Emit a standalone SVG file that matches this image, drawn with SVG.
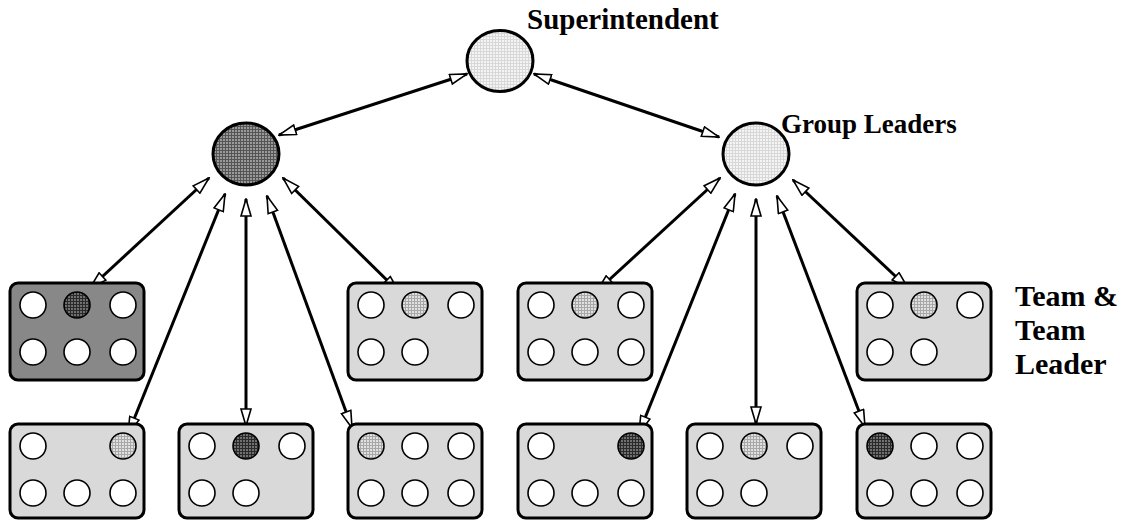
<svg xmlns="http://www.w3.org/2000/svg" width="1129" height="520" viewBox="0 0 1129 520">
<defs>
<pattern id="hxl" width="3" height="3" patternUnits="userSpaceOnUse"><rect width="3" height="3" fill="#f4f4f4"/><path d="M0,0.5H3M0.5,0V3" stroke="#d8d8d8" stroke-width="1"/></pattern>
<pattern id="hl" width="3" height="3" patternUnits="userSpaceOnUse"><rect width="3" height="3" fill="#e0e0e0"/><path d="M0,0.5H3M0.5,0V3" stroke="#a8a8a8" stroke-width="1"/></pattern>
<pattern id="hm" width="3" height="3" patternUnits="userSpaceOnUse"><rect width="3" height="3" fill="#9a9a9a"/><path d="M0,0.5H3M0.5,0V3" stroke="#555" stroke-width="1"/></pattern>
<pattern id="hd" width="3" height="3" patternUnits="userSpaceOnUse"><rect width="3" height="3" fill="#707070"/><path d="M0,0.5H3M0.5,0V3" stroke="#2a2a2a" stroke-width="1"/></pattern>
<marker id="ah" viewBox="0 0 19 12" refX="18" refY="6" markerWidth="19" markerHeight="12" markerUnits="userSpaceOnUse" orient="auto-start-reverse"><path d="M1,1 L18,6 L1,11 Z" fill="#fff" stroke="#000" stroke-width="1.6" stroke-linejoin="miter"/></marker>
</defs>
<style>
.lead{stroke:#000;stroke-width:3}
.box{fill:#d9d9d9;stroke:#000;stroke-width:3}
.boxd{fill:#888;stroke:#000;stroke-width:3}
.m{fill:#fff;stroke:#000;stroke-width:1.6}
.ml{fill:url(#hl);stroke:#000;stroke-width:1.6}
.md{fill:url(#hd);stroke:#000;stroke-width:1.6}
.c{stroke:#000;stroke-width:3;fill:none;marker-start:url(#ah);marker-end:url(#ah)}
.t{font-family:"Liberation Serif","Times New Roman",serif;font-weight:bold;fill:#000}
</style>
<rect width="1129" height="520" fill="#fff"/>

<g id="connectors">
<line class="c" x1="467" y1="74" x2="279" y2="135"/>
<line class="c" x1="534" y1="74" x2="719" y2="137"/>
<line class="c" x1="209" y1="178" x2="90" y2="288"/>
<line class="c" x1="225" y1="194" x2="128" y2="434"/>
<line class="c" x1="246" y1="199" x2="246" y2="426"/>
<line class="c" x1="267" y1="196" x2="352" y2="428"/>
<line class="c" x1="283" y1="178" x2="399" y2="292"/>
<line class="c" x1="720" y1="178" x2="597" y2="291"/>
<line class="c" x1="735" y1="194" x2="639" y2="433"/>
<line class="c" x1="756" y1="199" x2="756" y2="424"/>
<line class="c" x1="777" y1="196" x2="865" y2="427"/>
<line class="c" x1="793" y1="180" x2="908" y2="288"/>
</g>

<g id="superintendent">
<ellipse class="lead" cx="500" cy="61" rx="33" ry="30.5" fill="url(#hxl)"/>
<text class="t" x="527" y="29" font-size="29">Superintendent</text>
</g>

<g id="group-leader-left">
<ellipse class="lead" cx="246" cy="154" rx="33" ry="31" fill="url(#hm)"/>
</g>

<g id="group-leader-right">
<ellipse class="lead" cx="756" cy="154" rx="33" ry="31" fill="url(#hxl)"/>
<text class="t" x="781" y="133" font-size="27">Group Leaders</text>
</g>

<g id="team1" transform="translate(10,283)">
<rect class="boxd" x="0" y="0" width="134" height="97" rx="8"/>
<circle class="m" cx="23" cy="22" r="13"/><circle class="md" cx="67" cy="22" r="13"/><circle class="m" cx="113" cy="22" r="13"/>
<circle class="m" cx="23" cy="69" r="13"/><circle class="m" cx="67" cy="69" r="13"/><circle class="m" cx="113" cy="69" r="13"/>
</g>
<g id="team2" transform="translate(348,283)">
<rect class="box" x="0" y="0" width="134" height="97" rx="8"/>
<circle class="m" cx="23" cy="22" r="13"/><circle class="ml" cx="67" cy="22" r="13"/><circle class="m" cx="113" cy="22" r="13"/>
<circle class="m" cx="23" cy="69" r="13"/><circle class="m" cx="67" cy="69" r="13"/>
</g>
<g id="team3" transform="translate(518,283)">
<rect class="box" x="0" y="0" width="134" height="97" rx="8"/>
<circle class="m" cx="23" cy="22" r="13"/><circle class="ml" cx="67" cy="22" r="13"/><circle class="m" cx="113" cy="22" r="13"/>
<circle class="m" cx="23" cy="69" r="13"/><circle class="m" cx="67" cy="69" r="13"/><circle class="m" cx="113" cy="69" r="13"/>
</g>
<g id="team4" transform="translate(857,283)">
<rect class="box" x="0" y="0" width="134" height="97" rx="8"/>
<circle class="m" cx="23" cy="22" r="13"/><circle class="ml" cx="67" cy="22" r="13"/><circle class="m" cx="113" cy="22" r="13"/>
<circle class="m" cx="23" cy="69" r="13"/><circle class="m" cx="67" cy="69" r="13"/>
</g>
<g id="team-label">
<text class="t" font-size="30" x="1015" y="306">Team &amp;</text>
<text class="t" font-size="30" x="1015" y="340">Team</text>
<text class="t" font-size="30" x="1015" y="374">Leader</text>
</g>

<g id="team5" transform="translate(10,424)">
<rect class="box" x="0" y="0" width="134" height="94" rx="8"/>
<circle class="m" cx="23" cy="22" r="13"/><circle class="ml" cx="113" cy="22" r="13"/>
<circle class="m" cx="23" cy="69" r="13"/><circle class="m" cx="67" cy="69" r="13"/><circle class="m" cx="113" cy="69" r="13"/>
</g>
<g id="team6" transform="translate(179,424)">
<rect class="box" x="0" y="0" width="134" height="94" rx="8"/>
<circle class="m" cx="23" cy="22" r="13"/><circle class="md" cx="67" cy="22" r="13"/><circle class="m" cx="113" cy="22" r="13"/>
<circle class="m" cx="23" cy="69" r="13"/><circle class="m" cx="67" cy="69" r="13"/>
</g>
<g id="team7" transform="translate(348,424)">
<rect class="box" x="0" y="0" width="134" height="94" rx="8"/>
<circle class="ml" cx="23" cy="22" r="13"/><circle class="m" cx="67" cy="22" r="13"/><circle class="m" cx="113" cy="22" r="13"/>
<circle class="m" cx="23" cy="69" r="13"/><circle class="m" cx="67" cy="69" r="13"/><circle class="m" cx="113" cy="69" r="13"/>
</g>
<g id="team8" transform="translate(518,424)">
<rect class="box" x="0" y="0" width="134" height="94" rx="8"/>
<circle class="m" cx="23" cy="22" r="13"/><circle class="md" cx="113" cy="22" r="13"/>
<circle class="m" cx="23" cy="69" r="13"/><circle class="m" cx="67" cy="69" r="13"/><circle class="m" cx="113" cy="69" r="13"/>
</g>
<g id="team9" transform="translate(687,424)">
<rect class="box" x="0" y="0" width="134" height="94" rx="8"/>
<circle class="m" cx="23" cy="22" r="13"/><circle class="ml" cx="67" cy="22" r="13"/><circle class="m" cx="113" cy="22" r="13"/>
<circle class="m" cx="23" cy="69" r="13"/><circle class="m" cx="67" cy="69" r="13"/>
</g>
<g id="team10" transform="translate(857,424)">
<rect class="box" x="0" y="0" width="134" height="94" rx="8"/>
<circle class="md" cx="23" cy="22" r="13"/><circle class="m" cx="67" cy="22" r="13"/><circle class="m" cx="113" cy="22" r="13"/>
<circle class="m" cx="23" cy="69" r="13"/><circle class="m" cx="67" cy="69" r="13"/><circle class="m" cx="113" cy="69" r="13"/>
</g>
</svg>
